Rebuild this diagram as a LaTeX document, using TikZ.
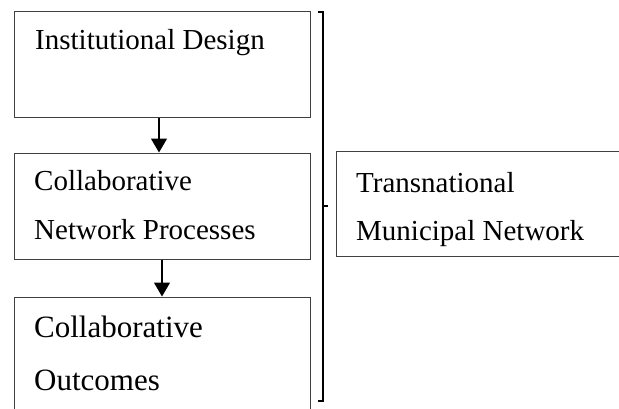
\documentclass[tikz,border=0pt]{standalone}
\usepackage{fontspec}
\setmainfont{Liberation Serif}
\usetikzlibrary{arrows.meta}
\begin{document}
\begin{tikzpicture}[x=1pt,y=-1pt,
  box/.style={draw=black!75, line width=1pt, rectangle, inner sep=0pt},
  lbl/.style={anchor=base west, inner sep=0pt, font=\fontsize{29}{34}\selectfont},
  biglbl/.style={lbl, font=\fontsize{31}{36}\selectfont},
  flow/.style={line width=1.4pt, -{Triangle[width=16pt,length=14pt]}},
  brace/.style={line width=2pt}]
\useasboundingbox (0,0) rectangle (619,408);

% stage boxes
\node[box, minimum width=296, minimum height=106] (b1) at (162,64) {};
\node[box, minimum width=296, minimum height=106] (b2) at (162,206) {};
\node[box, minimum width=296, minimum height=124] (b3) at (162,359) {};
\node[box, minimum width=286, minimum height=105] (tmn) at (479,203.5) {};

% box texts
\node[lbl] (t1) at (35,49) {Institutional Design};
\node[lbl] (t2a) at (34,190) {Collaborative};
\node[lbl] (t2b) at (34,239) {Network Processes};
\node[biglbl] (t3a) at (34,337) {Collaborative};
\node[biglbl] (t3b) at (34,390) {Outcomes};
\node[lbl] (t4a) at (356,192) {Transnational};
\node[lbl] (t4b) at (356,240) {Municipal Network};

% flow between stages
\draw[flow] ([xshift=-3pt]b1.south) -- ([xshift=-3pt]b2.north);
\draw[flow] (b2.south) -- (b3.north);

% bracket grouping the stages
\coordinate (bt) at (318,12);
\coordinate (bb) at (318,401);
\coordinate (bm) at (323,206);
\draw[brace] (bt) -- ++(5,0) -- (323,401) -- (bb);
\draw[brace] (bm) -- ++(5,0);
\end{tikzpicture}
\end{document}
